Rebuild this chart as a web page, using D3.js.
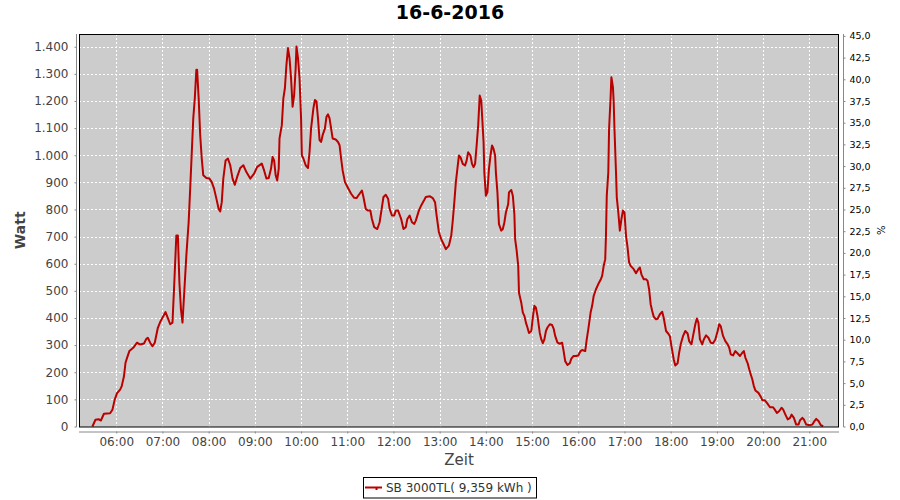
<!DOCTYPE html>
<html>
<head>
<meta charset="utf-8">
<script src="https://cdn.jsdelivr.net/npm/d3@7"></script>
<style>
  html, body { margin: 0; padding: 0; background: #fff; }
  svg { display: block; font-family: "DejaVu Sans", sans-serif; }
</style>
</head>
<body>
<svg id="chart" width="900" height="500"></svg>
<script>
// ---------- DATA ----------
const chartTitle = "16-6-2016";
const seriesName = "SB 3000TL( 9,359 kWh )";
const xAxisTitle = "Zeit";
const yAxisTitle = "Watt";
const y2AxisTitle = "%";
const dayDate = [2016, 5, 16];

const times = [
 "5:29","5:33","5:37","5:40","5:44","5:52","5:55","5:58","6:01","6:05","6:07","6:10","6:12","6:14","6:17","6:22",
 "6:27","6:31","6:36","6:39","6:41","6:44","6:47","6:50","6:54","6:57","7:00","7:04","7:06","7:10","7:13","7:15",
 "7:18","7:20","7:22","7:24","7:26","7:28","7:31","7:34","7:36","7:38","7:40","7:42","7:44","7:45","7:47","7:49",
 "7:51","7:53","7:57","8:01","8:04","8:07","8:10","8:13","8:15","8:17","8:19","8:22","8:25","8:28","8:31","8:34",
 "8:37","8:41","8:45","8:49","8:54","8:59","9:03","9:09","9:12","9:15","9:18","9:21","9:23","9:25","9:27","9:29",
 "9:31","9:32","9:35","9:37","9:39","9:41","9:43","9:45","9:47","9:49","9:51","9:53","9:54","9:56","9:58","10:00",
 "10:01","10:03","10:06","10:09","10:11","10:13","10:16","10:18","10:20","10:22","10:24","10:26","10:28","10:31","10:33","10:35",
 "10:37","10:39","10:41","10:45","10:48","10:50","10:52","10:54","10:57","11:01","11:05","11:09","11:12","11:16","11:19","11:21",
 "11:24","11:27","11:30","11:32","11:35","11:39","11:42","11:45","11:47","11:50","11:53","11:55","11:58","12:01","12:03","12:06",
 "12:10","12:13","12:16","12:18","12:21","12:24","12:27","12:29","12:33","12:36","12:39","12:42","12:47","12:51","12:54","12:56",
 "12:59","13:02","13:05","13:08","13:12","13:15","13:17","13:19","13:21","13:23","13:25","13:27","13:30","13:33","13:35","13:37",
 "13:40","13:42","13:44","13:46","13:48","13:50","13:52","13:54","13:57","13:58","14:00","14:02","14:04","14:06","14:08","14:10",
 "14:12","14:13","14:15","14:17","14:20","14:22","14:24","14:26","14:29","14:30","14:33","14:35","14:37","14:38","14:40","14:42",
 "14:43","14:46","14:48","14:50","14:52","14:54","14:56","14:59","15:01","15:03","15:05","15:07","15:10","15:12","15:14","15:16",
 "15:18","15:20","15:23","15:26","15:28","15:30","15:33","15:36","15:39","15:41","15:43","15:46","15:49","15:51","15:54","15:57",
 "16:00","16:03","16:05","16:09","16:11","16:13","16:16","16:18","16:20","16:23","16:26","16:29","16:31","16:33","16:35","16:36",
 "16:37","16:39","16:40","16:42","16:43","16:45","16:46","16:47","16:49","16:50","16:52","16:54","16:56","16:58","17:00","17:02",
 "17:04","17:06","17:08","17:12","17:15","17:18","17:20","17:22","17:25","17:28","17:30","17:32","17:34","17:36","17:38","17:41",
 "17:43","17:46","17:49","17:51","17:54","17:57","17:59","18:01","18:04","18:06","18:09","18:11","18:13","18:16","18:19","18:22",
 "18:24","18:27","18:29","18:32","18:34","18:36","18:38","18:41","18:43","18:46","18:49","18:52","18:55","18:58","19:01","19:03",
 "19:05","19:08","19:11","19:14","19:16","19:18","19:21","19:24","19:27","19:30","19:33","19:35","19:37","19:40","19:42","19:44",
 "19:46","19:48","19:50","19:54","19:57","19:59","20:02","20:05","20:09","20:13","20:15","20:18","20:21","20:24","20:26","20:29",
 "20:32","20:35","20:37","20:40","20:43","20:46","20:48","20:51","20:53","20:56","21:01","21:04","21:06","21:09","21:12","21:15",
 "21:18"
];

const watts = [
 0,25,27,22,47,49,62,99,123,136,148,185,235,253,278,290,
 309,302,306,323,327,309,296,309,364,385,401,422,407,377,383,506,
 704,704,531,432,383,481,630,753,877,1006,1136,1210,1315,1315,1210,1074,
 988,926,916,914,901,877,840,802,793,827,914,981,988,963,914,891,
 920,953,963,938,914,932,957,969,944,914,916,951,994,981,926,907,
 951,1062,1111,1210,1247,1333,1395,1358,1284,1179,1222,1321,1401,1358,1284,1136,
 1000,988,963,953,1012,1099,1173,1204,1198,1136,1056,1049,1074,1099,1142,1151,
 1136,1099,1062,1058,1049,1037,988,944,901,879,858,843,842,858,870,846,
 802,796,796,765,735,728,753,809,846,854,840,802,778,778,796,796,
 765,728,735,765,778,753,747,759,796,815,830,846,849,842,827,778,
 716,691,673,654,667,703,759,826,900,950,999,993,968,962,980,1011,
 999,968,956,968,1036,1110,1220,1202,1048,937,851,863,950,999,1036,1023,
 999,937,863,746,722,728,752,789,820,863,872,851,783,691,648,592,
 493,456,420,408,383,365,345,352,402,445,438,408,345,321,307,321,
 352,365,377,374,361,334,309,305,309,278,241,227,233,250,260,260,
 262,278,282,278,321,358,420,445,481,506,525,541,555,592,617,709,
 851,937,1097,1214,1288,1251,1196,1097,937,845,789,722,764,796,789,703,
 660,605,592,580,565,580,586,561,543,543,537,506,451,426,405,395,
 397,414,423,400,352,342,333,296,247,225,233,272,303,333,352,343,
 315,303,333,377,398,383,321,303,321,336,327,309,307,321,352,377,
 370,334,315,303,291,266,262,278,269,260,272,278,254,233,211,192,
 174,149,133,124,110,97,97,87,71,71,63,50,57,69,63,44,
 26,32,44,32,7,7,23,32,26,7,5,7,17,28,20,5,
 1
];

const yTickValues = [0,100,200,300,400,500,600,700,800,900,1000,1100,1200,1300,1400];
const y2TickValues = [0,2.5,5,7.5,10,12.5,15,17.5,20,22.5,25,27.5,30,32.5,35,37.5,40,42.5,45];
const xDomainTimes = ["5:11:36", "21:38:36"];
const yMax = 1447;
const percentBase = 32; // watts per percent

// ---------- SETUP ----------
const de = d3.formatLocale({decimal: ",", thousands: ".", grouping: [3], currency: ["", " €"]});
const fmtW = de.format(",d");
const fmtP = de.format(",.1f");

function toDate(s) {
  const p = s.split(":").map(Number);
  return new Date(dayDate[0], dayDate[1], dayDate[2], p[0], p[1], p[2] || 0);
}
const data = times.map((t, i) => ({t: toDate(t), v: watts[i]}));

const L = 79, R = 839, T = 34, B = 426.5;

const svg = d3.select("#chart");

const x = d3.scaleTime().domain(xDomainTimes.map(toDate)).range([L, R]);
const y = d3.scaleLinear().domain([0, yMax]).range([B, T]);
const y2 = d3.scaleLinear().domain([0, yMax / percentBase]).range([B, T]);

// plot background
svg.append("rect").attr("x", L).attr("y", T).attr("width", R - L).attr("height", B - T + 0.5)
  .attr("fill", "#cccccc");

// grid
const hourTicks = x.ticks(d3.timeHour.every(1));
const grid = svg.append("g").attr("stroke", "#ffffff").attr("stroke-width", 1)
  .attr("stroke-dasharray", "2,2").attr("shape-rendering", "crispEdges");
grid.selectAll("line.v").data(hourTicks).join("line")
  .attr("x1", d => Math.round(x(d)) + 0.5).attr("x2", d => Math.round(x(d)) + 0.5)
  .attr("y1", T).attr("y2", B);
grid.selectAll("line.h").data(yTickValues.filter(d => d > 0)).join("line")
  .attr("x1", L).attr("x2", R)
  .attr("y1", d => Math.round(y(d)) + 0.5).attr("y2", d => Math.round(y(d)) + 0.5);

// line
svg.append("clipPath").attr("id", "clip").append("rect")
  .attr("x", L).attr("y", T).attr("width", R - L).attr("height", B - T + 1);
svg.append("path").datum(data)
  .attr("clip-path", "url(#clip)")
  .attr("fill", "none").attr("stroke", "#bb0000").attr("stroke-width", 2)
  .attr("stroke-linejoin", "round")
  .attr("d", d3.line().x(d => x(d.t)).y(d => y(d.v)));

// plot border
svg.append("rect").attr("x", L + 0.5).attr("y", T + 0.5).attr("width", R - L - 1).attr("height", B - T)
  .attr("fill", "none").attr("stroke", "#000").attr("stroke-width", 1);

// axes
function styleAxis(g, color, size) {
  g.selectAll(".domain").attr("stroke", "#888888");
  g.selectAll(".tick line").attr("stroke", "#888888");
  g.selectAll(".tick text").attr("fill", color).style("font-size", size + "px")
    .style("font-family", "'DejaVu Sans', sans-serif");
}

const gx = svg.append("g").attr("transform", "translate(0,431.5)")
  .call(d3.axisBottom(x).ticks(d3.timeHour.every(1)).tickFormat(d3.timeFormat("%H:%M"))
    .tickSize(2).tickSizeOuter(0).tickPadding(4));
gx.select(".domain").attr("d", `M${L},0.5H${R}`);
styleAxis(gx, "#444444", 12);

const gy = svg.append("g").attr("transform", "translate(76.5,0)")
  .call(d3.axisLeft(y).tickValues(yTickValues).tickFormat(fmtW)
    .tickSize(2).tickSizeOuter(0).tickPadding(6));
gy.select(".domain").attr("d", `M0,${T}V${B + 0.5}`);
styleAxis(gy, "#444444", 12);

const gy2 = svg.append("g").attr("transform", "translate(843.5,0)")
  .call(d3.axisRight(y2).tickValues(y2TickValues).tickFormat(fmtP)
    .tickSize(2).tickSizeOuter(0).tickPadding(4));
gy2.select(".domain").attr("d", `M0,${T}V${B + 0.5}`);
styleAxis(gy2, "#000000", 9.5);

// titles
svg.append("text").attr("x", 450).attr("y", 19).attr("text-anchor", "middle")
  .style("font-size", "19px").style("font-weight", "bold").attr("fill", "#000")
  .text(chartTitle);

svg.append("text").attr("transform", `translate(25,${(T + B) / 2}) rotate(-90)`)
  .attr("text-anchor", "middle").style("font-size", "14px").style("font-weight", "bold")
  .attr("fill", "#444444").text(yAxisTitle);

svg.append("text").attr("x", (L + R) / 2).attr("y", 465).attr("text-anchor", "middle")
  .style("font-size", "15px").attr("fill", "#444444").text(xAxisTitle);

svg.append("text").attr("transform", `translate(877,${(T + B) / 2}) rotate(90)`)
  .attr("text-anchor", "middle").style("font-size", "10px").attr("fill", "#000")
  .text(y2AxisTitle);

// legend
const lg = svg.append("g");
lg.append("rect").attr("x", 363.5).attr("y", 477.5).attr("width", 173).attr("height", 20.5)
  .attr("fill", "#fff").attr("stroke", "#000").attr("stroke-width", 1);
lg.append("line").attr("x1", 365).attr("x2", 382).attr("y1", 487.5).attr("y2", 487.5)
  .attr("stroke", "#bb0000").attr("stroke-width", 2);
lg.append("rect").attr("x", 375.5).attr("y", 488).attr("width", 2).attr("height", 2)
  .attr("fill", "#bb0000");
lg.append("text").attr("x", 386).attr("y", 491.5).style("font-size", "12px")
  .attr("fill", "#333333").text(seriesName);
</script>
</body>
</html>
